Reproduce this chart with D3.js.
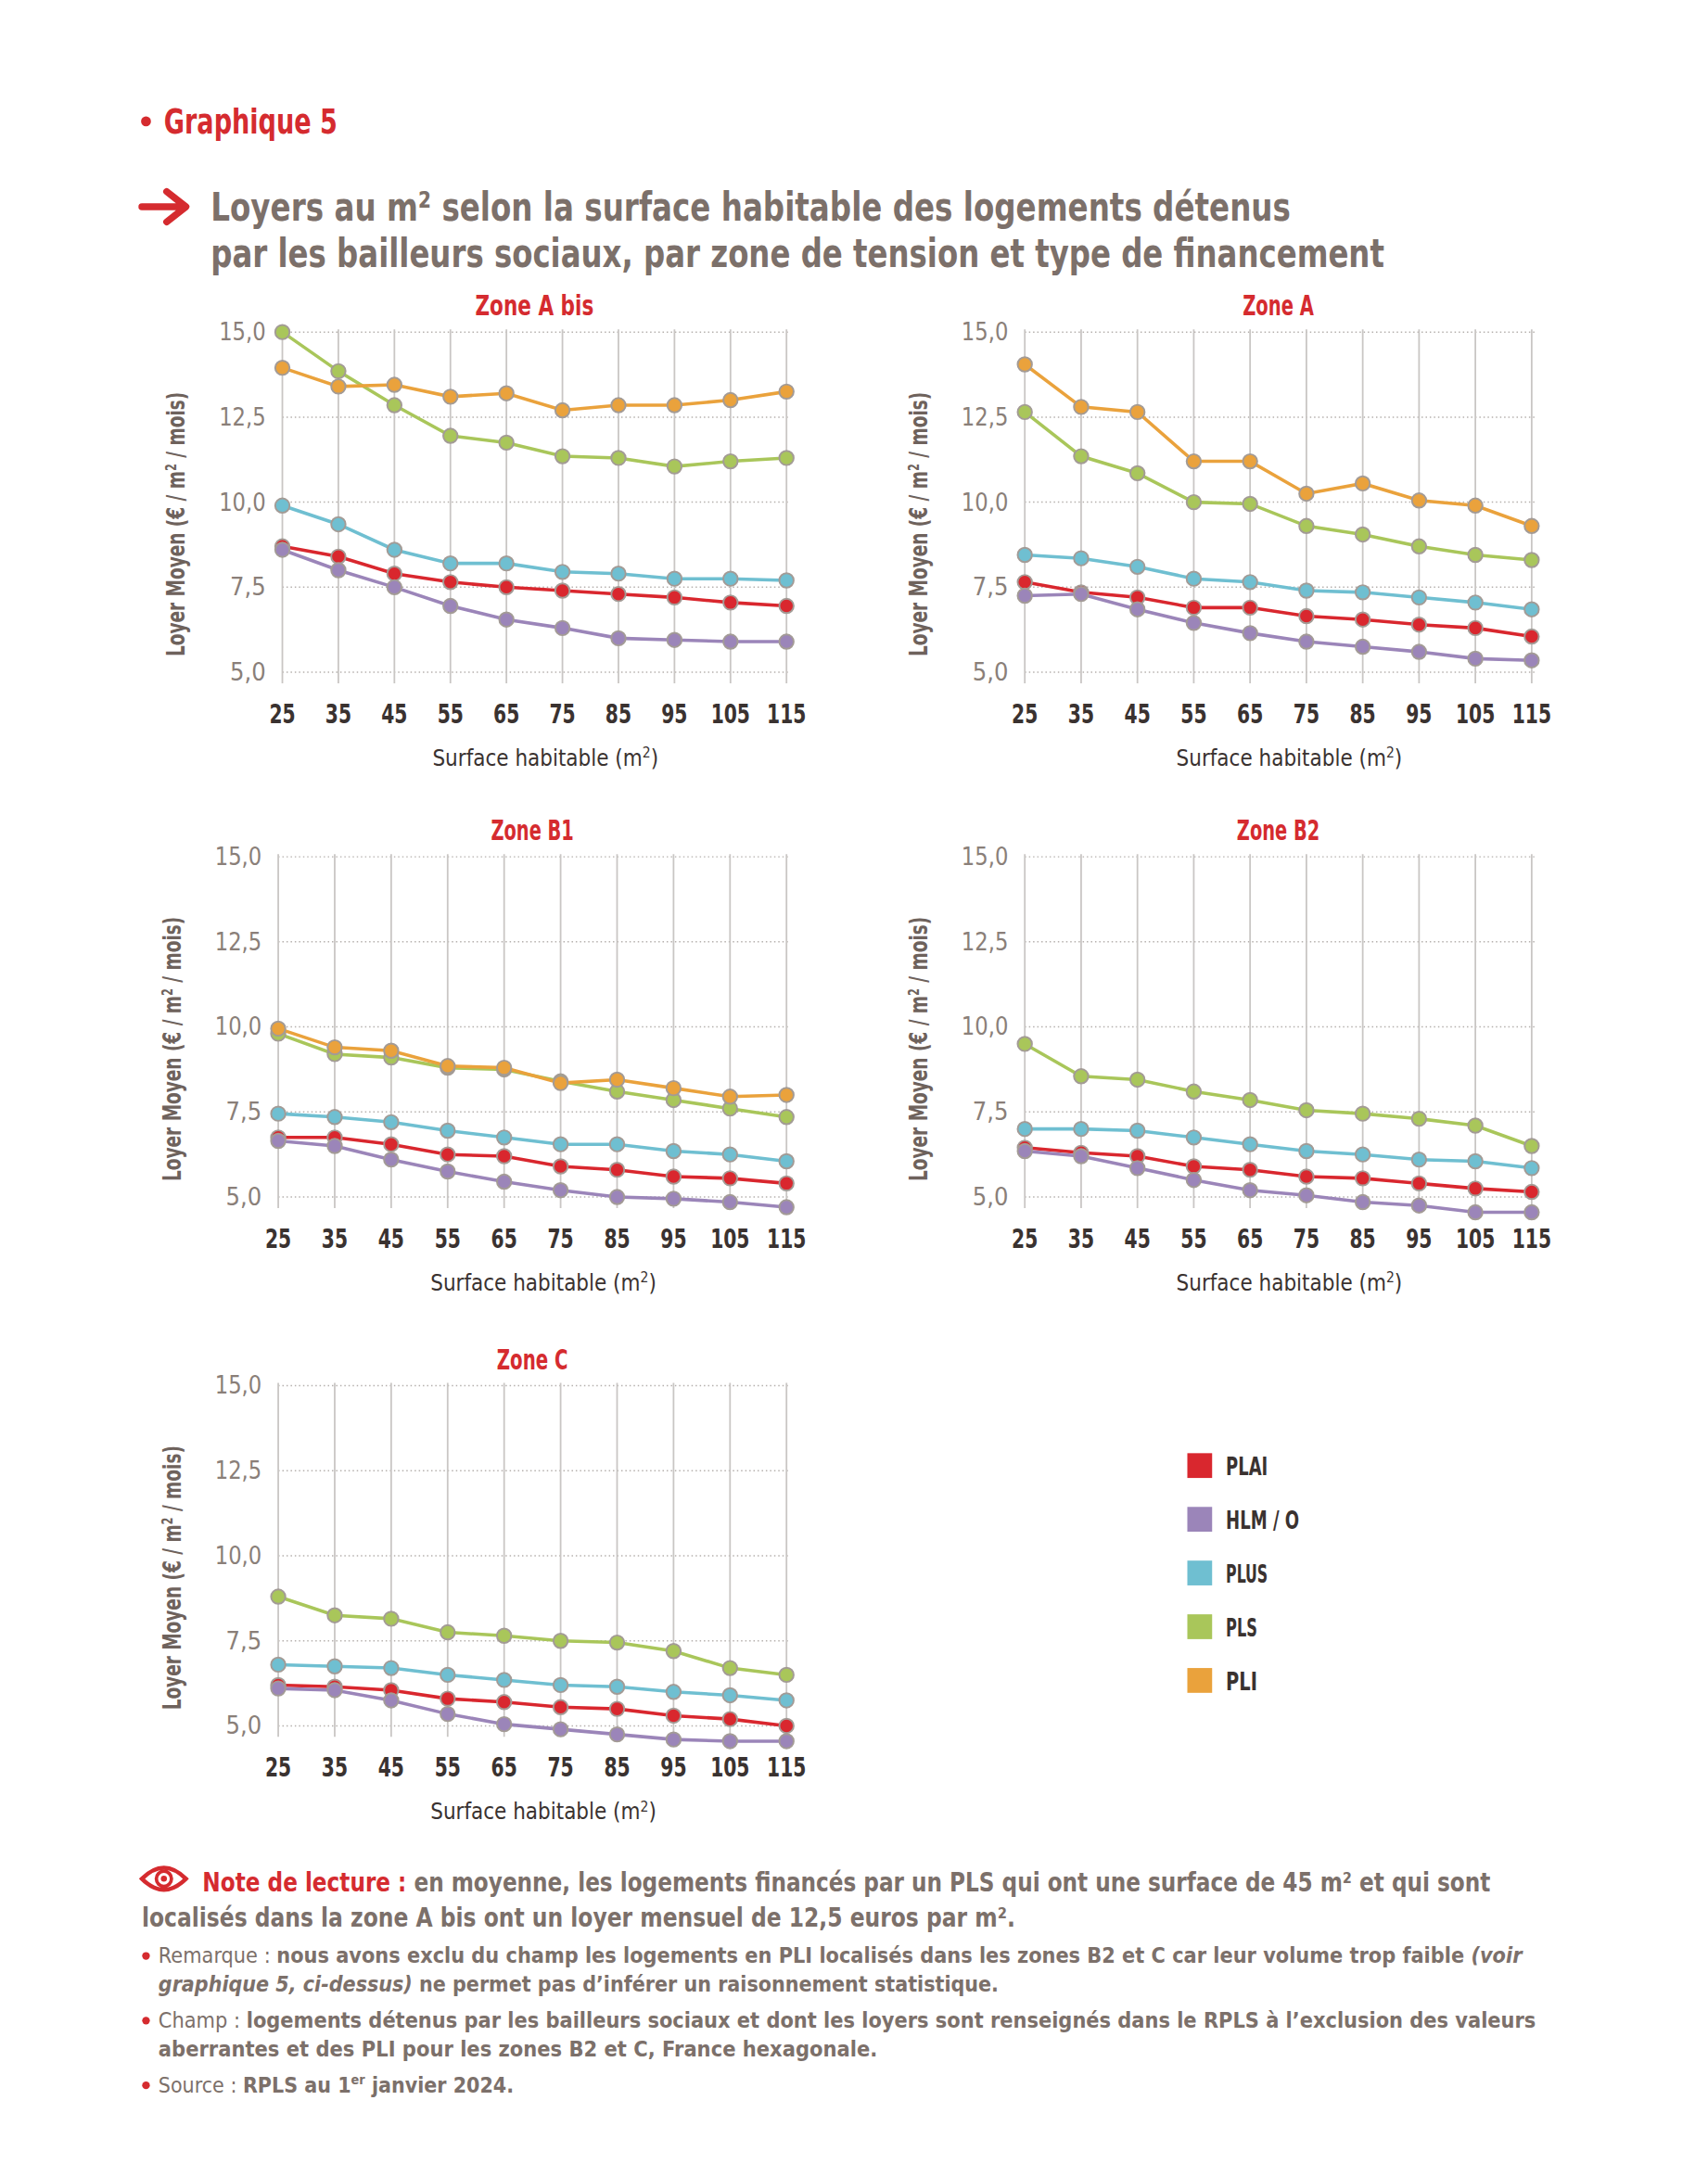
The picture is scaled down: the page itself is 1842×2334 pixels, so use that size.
<!DOCTYPE html>
<html><head><meta charset="utf-8">
<script src="https://cdn.jsdelivr.net/npm/d3@7"></script>
<style>
  body { margin: 0; background: #fff; }
  svg { display: block; font-family: "Liberation Sans Narrow", "DejaVu Sans Condensed", "Roboto", sans-serif; }
</style></head>
<body>
<script>
// ---- data ----
var sizes = [25, 35, 45, 55, 65, 75, 85, 95, 105, 115];
var yTicks = [5, 7.5, 10, 12.5, 15];
var seriesNames = ['PLAI', 'HLM/O', 'PLUS', 'PLS', 'PLI'];
var seriesColors = ['#d9272e', '#9b85b9', '#6fbfd1', '#a9c65a', '#eaa23c'];

var zoneABis = [
  [8.7, 8.4, 7.9, 7.65, 7.5, 7.4, 7.3, 7.2, 7.05, 6.95],
  [8.6, 8.0, 7.5, 6.95, 6.55, 6.3, 6.0, 5.95, 5.9, 5.9],
  [9.9, 9.35, 8.6, 8.2, 8.2, 7.95, 7.9, 7.75, 7.75, 7.7],
  [15.0, 13.85, 12.85, 11.95, 11.75, 11.35, 11.3, 11.05, 11.2, 11.3],
  [13.95, 13.4, 13.45, 13.1, 13.2, 12.7, 12.85, 12.85, 13.0, 13.25]
];
var zoneA = [
  [7.65, 7.35, 7.2, 6.9, 6.9, 6.65, 6.55, 6.4, 6.3, 6.05],
  [7.25, 7.3, 6.85, 6.45, 6.15, 5.9, 5.75, 5.6, 5.4, 5.35],
  [8.45, 8.35, 8.1, 7.75, 7.65, 7.4, 7.35, 7.2, 7.05, 6.85],
  [12.65, 11.35, 10.85, 10.0, 9.95, 9.3, 9.05, 8.7, 8.45, 8.3],
  [14.05, 12.8, 12.65, 11.2, 11.2, 10.25, 10.55, 10.05, 9.9, 9.3]
];
var zoneB1 = [
  [6.75, 6.75, 6.55, 6.25, 6.2, 5.9, 5.8, 5.6, 5.55, 5.4],
  [6.65, 6.5, 6.1, 5.75, 5.45, 5.2, 5.0, 4.95, 4.85, 4.7],
  [7.45, 7.35, 7.2, 6.95, 6.75, 6.55, 6.55, 6.35, 6.25, 6.05],
  [9.8, 9.2, 9.1, 8.8, 8.75, 8.4, 8.1, 7.85, 7.6, 7.35],
  [9.95, 9.4, 9.3, 8.85, 8.8, 8.35, 8.45, 8.2, 7.95, 8.0]
];
var zoneB2 = [
  [6.45, 6.3, 6.2, 5.9, 5.8, 5.6, 5.55, 5.4, 5.25, 5.15],
  [6.35, 6.2, 5.85, 5.5, 5.2, 5.05, 4.85, 4.75, 4.55, 4.55],
  [7.0, 7.0, 6.95, 6.75, 6.55, 6.35, 6.25, 6.1, 6.05, 5.85],
  [9.5, 8.55, 8.45, 8.1, 7.85, 7.55, 7.45, 7.3, 7.1, 6.5],
  null
];
var zoneC = [
  [6.2, 6.15, 6.05, 5.8, 5.7, 5.55, 5.5, 5.3, 5.2, 5.0],
  [6.1, 6.05, 5.75, 5.35, 5.05, 4.9, 4.75, 4.6, 4.55, 4.55],
  [6.8, 6.75, 6.7, 6.5, 6.35, 6.2, 6.15, 6.0, 5.9, 5.75],
  [8.8, 8.25, 8.15, 7.75, 7.65, 7.5, 7.45, 7.2, 6.7, 6.5],
  null
];

var panels = [
  { title: 'Zone A bis', data: zoneABis, x0: 205, x1: 571, top: 241 },
  { title: 'Zone A',     data: zoneA,    x0: 744, x1: 1112, top: 241 },
  { title: 'Zone B1',    data: zoneB1,   x0: 202, x1: 571, top: 622 },
  { title: 'Zone B2',    data: zoneB2,   x0: 744, x1: 1112, top: 622 },
  { title: 'Zone C',     data: zoneC,    x0: 202, x1: 571, top: 1006 }
];

var RED = '#d52b2f', GREY = '#7c706a', DARK = '#3a3230';

var svg = d3.select('body').append('svg')
  .attr('width', 1842).attr('height', 2334)
  .attr('viewBox', '0 0 1240 1571');

// ---- header ----
svg.append('circle').attr('cx', 106).attr('cy', 88).attr('r', 3.6).attr('fill', RED);
svg.append('text').attr('x', 119).attr('y', 97).attr('fill', RED)
  .attr('font-size', 25).attr('font-weight', 'bold')
  .attr('textLength', 126).attr('lengthAdjust', 'spacingAndGlyphs').text('Graphique 5');

svg.append('path').attr('d', 'M103,150 L132,150 M121,139 L135,150 L121,161')
  .attr('stroke', RED).attr('stroke-width', 5).attr('fill', 'none')
  .attr('stroke-linecap', 'round').attr('stroke-linejoin', 'round');
svg.append('text').attr('x', 153).attr('y', 160).attr('fill', GREY)
  .attr('font-size', 29).attr('font-weight', 'bold')
  .attr('textLength', 784).attr('lengthAdjust', 'spacingAndGlyphs')
  .text('Loyers au m² selon la surface habitable des logements détenus');
svg.append('text').attr('x', 153).attr('y', 194).attr('fill', GREY)
  .attr('font-size', 29).attr('font-weight', 'bold')
  .attr('textLength', 852).attr('lengthAdjust', 'spacingAndGlyphs')
  .text('par les bailleurs sociaux, par zone de tension et type de financement');

// ---- panels ----
panels.forEach(function (p) {
  var h = 247;
  var x = d3.scalePoint().domain(sizes).range([p.x0, p.x1]);
  var y = d3.scaleLinear().domain([5, 15]).range([p.top + h, p.top]);
  var g = svg.append('g');

  g.append('text').attr('x', (p.x0 + p.x1) / 2).attr('y', p.top - 12)
    .attr('text-anchor', 'middle').attr('fill', RED)
    .attr('font-size', 20).attr('font-weight', 'bold')
    .attr('textLength', p.title.length * 8.6).attr('lengthAdjust', 'spacingAndGlyphs')
    .text(p.title);

  // horizontal dotted grid
  g.selectAll('line.h').data(yTicks).enter().append('line')
    .attr('x1', p.x0).attr('x2', p.x1 + 2)
    .attr('y1', function (d) { return y(d); }).attr('y2', function (d) { return y(d); })
    .attr('stroke', '#b5b0ad').attr('stroke-width', 1).attr('stroke-dasharray', '1,2');
  // vertical grid
  g.selectAll('line.v').data(sizes).enter().append('line')
    .attr('x1', function (d) { return x(d); }).attr('x2', function (d) { return x(d); })
    .attr('y1', p.top - 2).attr('y2', p.top + h + 8)
    .attr('stroke', '#c9c6c4').attr('stroke-width', 1.2);

  // axes labels
  g.selectAll('text.yt').data(yTicks).enter().append('text')
    .attr('x', p.x0 - 12).attr('y', function (d) { return y(d) + 6; })
    .attr('text-anchor', 'end').attr('fill', '#8a7f79').attr('font-size', 18)
    .attr('textLength', function (d) { return d >= 10 ? 34 : 26; })
    .attr('lengthAdjust', 'spacingAndGlyphs')
    .text(function (d) { return d3.format('.1f')(d).replace('.', ','); });
  g.selectAll('text.xt').data(sizes).enter().append('text')
    .attr('x', function (d) { return x(d); }).attr('y', p.top + h + 37)
    .attr('text-anchor', 'middle').attr('fill', DARK).attr('font-size', 19)
    .attr('font-weight', 'bold')
    .attr('textLength', function (d) { return String(d).length * 9.5; })
    .attr('lengthAdjust', 'spacingAndGlyphs')
    .text(function (d) { return d; });
  var xt = g.append('text').attr('x', (p.x0 + p.x1) / 2 + 8).attr('y', p.top + h + 68)
    .attr('text-anchor', 'middle').attr('fill', DARK).attr('font-size', 17)
    .attr('textLength', 164).attr('lengthAdjust', 'spacingAndGlyphs');
  xt.append('tspan').text('Surface habitable (m');
  xt.append('tspan').attr('font-size', 11).attr('dy', -6).text('2');
  xt.append('tspan').attr('dy', 6).text(')');
  var cy = p.top + h / 2 + 16;
  var ya = g.append('text').attr('transform', 'translate(' + (p.x0 - 71) + ',' + cy + ') rotate(-90)')
    .attr('text-anchor', 'middle').attr('fill', '#6e625c').attr('font-size', 18)
    .attr('font-weight', 'bold')
    .attr('textLength', 192).attr('lengthAdjust', 'spacingAndGlyphs');
  ya.append('tspan').text('Loyer Moyen (€ / m');
  ya.append('tspan').attr('font-size', 11).attr('dy', -6).text('2');
  ya.append('tspan').attr('dy', 6).text(' / mois)');

  var line = d3.line().x(function (d, i) { return x(sizes[i]); }).y(function (d) { return y(d); });
  p.data.forEach(function (vals, si) {
    if (!vals) return;
    g.append('path').attr('d', line(vals)).attr('fill', 'none')
      .attr('stroke', seriesColors[si]).attr('stroke-width', 2.4);
    g.selectAll('circle.s' + si).data(vals).enter().append('circle')
      .attr('cx', function (d, i) { return x(sizes[i]); })
      .attr('cy', function (d) { return y(d); })
      .attr('r', 5.2).attr('fill', seriesColors[si])
      .attr('stroke', '#a39b96').attr('stroke-width', 1.3);
  });
});

// ---- legend ----
var leg = svg.append('g');
seriesNames.forEach(function (n, i) {
  var yy = 1064 + i * 39;
  var label = n === 'HLM/O' ? 'HLM / O' : n;
  leg.append('rect').attr('x', 862).attr('y', yy - 9).attr('width', 18).attr('height', 18)
    .attr('fill', seriesColors[i]);
  leg.append('text').attr('x', 890).attr('y', yy + 7).attr('fill', DARK)
    .attr('font-size', 18).attr('font-weight', 'bold')
    .attr('textLength', label.length * 7.6).attr('lengthAdjust', 'spacingAndGlyphs')
    .text(label);
});

// ---- notes ----
var eye = svg.append('g').attr('transform', 'translate(119,1364)');
eye.append('path').attr('d', 'M-16,0 Q0,-16 16,0 Q0,16 -16,0 Z')
  .attr('fill', 'none').attr('stroke', RED).attr('stroke-width', 3);
eye.append('circle').attr('r', 5.5).attr('fill', 'none').attr('stroke', RED).attr('stroke-width', 2.5);
eye.append('circle').attr('r', 2.2).attr('fill', RED);

var n1 = svg.append('text').attr('x', 147).attr('y', 1373).attr('font-size', 19)
  .attr('font-weight', 'bold').attr('fill', GREY)
  .attr('textLength', 935).attr('lengthAdjust', 'spacingAndGlyphs');
n1.append('tspan').attr('fill', RED).text('Note de lecture : ');
n1.append('tspan').text('en moyenne, les logements financés par un PLS qui ont une surface de 45 m² et qui sont');
svg.append('text').attr('x', 103).attr('y', 1399).attr('font-size', 19)
  .attr('font-weight', 'bold').attr('fill', GREY)
  .attr('textLength', 634).attr('lengthAdjust', 'spacingAndGlyphs')
  .text('localisés dans la zone A bis ont un loyer mensuel de 12,5 euros par m².');

function noteLine(yy, parts, len, bullet) {
  if (bullet) svg.append('circle').attr('cx', 106).attr('cy', yy - 5).attr('r', 2.8).attr('fill', RED);
  var t = svg.append('text').attr('x', 115).attr('y', yy).attr('font-size', 16).attr('fill', GREY)
    .attr('textLength', len).attr('lengthAdjust', 'spacingAndGlyphs');
  parts.forEach(function (pt) {
    var s = t.append('tspan').text(pt[0]);
    if (pt[1] === 'b') s.attr('font-weight', 'bold');
    if (pt[1] === 'i') s.attr('font-weight', 'bold').attr('font-style', 'italic');
    if (pt[1] === 'sup') s.attr('font-weight', 'bold').attr('font-size', 10).attr('dy', -6);
    if (pt[1] === 'back') s.attr('font-weight', 'bold').attr('dy', 6);
  });
}
noteLine(1425, [['Remarque : ', ''], ['nous avons exclu du champ les logements en PLI localisés dans les zones B2 et C car leur volume trop faible ', 'b'], ['(voir', 'i']], 990, true);
noteLine(1446, [['graphique 5, ci-dessus)', 'i'], [' ne permet pas d’inférer un raisonnement statistique.', 'b']], 610, false);
noteLine(1472, [['Champ : ', ''], ['logements détenus par les bailleurs sociaux et dont les loyers sont renseignés dans le RPLS à l’exclusion des valeurs', 'b']], 1000, true);
noteLine(1493, [['aberrantes et des PLI pour les zones B2 et C, France hexagonale.', 'b']], 522, false);
noteLine(1519, [['Source : ', ''], ['RPLS au 1', 'b'], ['er', 'sup'], [' janvier 2024.', 'back']], 258, true);
</script>
</body></html>
